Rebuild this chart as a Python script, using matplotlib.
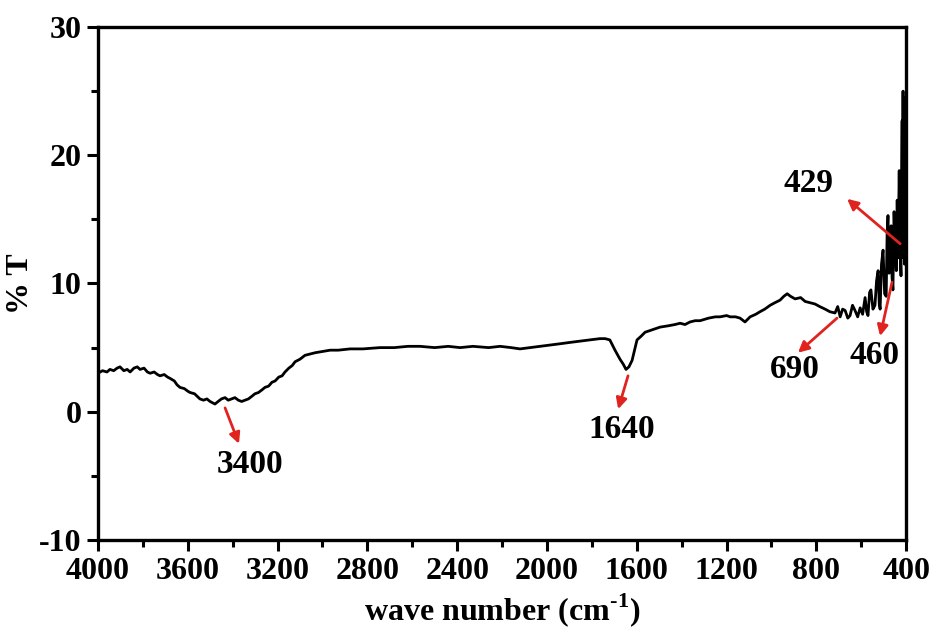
import matplotlib.pyplot as plt
from matplotlib.ticker import MultipleLocator

plt.rcParams['font.family'] = ['Liberation Serif', 'DejaVu Serif']
plt.rcParams['font.weight'] = 'bold'
plt.rcParams['axes.unicode_minus'] = False
plt.rcParams['mathtext.fontset'] = 'custom'
plt.rcParams['mathtext.rm'] = 'Liberation Serif:bold'
plt.rcParams['mathtext.bf'] = 'Liberation Serif:bold'

# FTIR spectrum (wave number, % T)
wave_number = [4000, 3980, 3960, 3947, 3930, 3915, 3902, 3885, 3870, 3857, 3840, 3825,
               3813, 3795, 3780, 3768, 3750, 3735, 3724, 3705, 3690, 3679, 3660, 3648,
               3635, 3615, 3600, 3590, 3570, 3558, 3546, 3530, 3515, 3501, 3490, 3479,
               3465, 3450, 3434, 3420, 3405, 3390, 3375, 3360, 3345, 3330, 3315, 3301,
               3285, 3270, 3256, 3240, 3225, 3211, 3195, 3180, 3167, 3150, 3135, 3122,
               3100, 3078, 3055, 3033, 3000, 2966, 2930, 2877, 2820, 2744, 2680, 2620,
               2566, 2500, 2440, 2387, 2330, 2260, 2209, 2160, 2120, 2075, 2031, 1985,
               1942, 1900, 1853, 1810, 1764, 1741, 1720, 1697, 1675, 1660, 1648, 1635,
               1621, 1610, 1599, 1580, 1563, 1530, 1496, 1460, 1430, 1407, 1385, 1363,
               1340, 1318, 1280, 1250, 1229, 1200, 1184, 1160, 1140, 1118, 1095, 1070,
               1051, 1030, 1006, 985, 962, 945, 930, 915, 895, 870, 850, 828, 806, 785,
               761, 740, 717, 705, 694, 683, 672, 660, 650, 639, 628, 616, 605, 594,
               583, 576, 570, 563, 557, 548, 539, 532, 525, 520, 516, 510, 503, 496,
               489, 485, 481, 476, 472, 467, 463, 459, 454, 449, 444, 440, 436, 431,
               427, 423, 420, 418, 416, 414, 412, 409, 407, 405, 403, 401]
transmittance = [3.0, 3.2, 3.1, 3.3, 3.2, 3.4, 3.5, 3.2, 3.3, 3.1, 3.4, 3.5,
                 3.3, 3.4, 3.1, 3.0, 3.1, 2.9, 2.8, 2.9, 2.7, 2.6, 2.4, 2.1,
                 1.9, 1.8, 1.6, 1.5, 1.4, 1.2, 1.0, 0.9, 1.0, 0.8, 0.7, 0.6,
                 0.8, 1.0, 1.1, 0.9, 1.0, 1.1, 0.9, 0.8, 0.9, 1.0, 1.2, 1.4,
                 1.5, 1.7, 1.9, 2.0, 2.3, 2.4, 2.7, 2.8, 3.1, 3.4, 3.6, 3.9,
                 4.1, 4.4, 4.5, 4.6, 4.7, 4.8, 4.8, 4.9, 4.9, 5.0, 5.0, 5.1,
                 5.1, 5.0, 5.1, 5.0, 5.1, 5.0, 5.1, 5.0, 4.9, 5.0, 5.1, 5.2,
                 5.3, 5.4, 5.5, 5.6, 5.7, 5.7, 5.6, 4.8, 4.1, 3.7, 3.3, 3.5,
                 4.0, 4.8, 5.6, 5.9, 6.2, 6.4, 6.6, 6.7, 6.8, 6.9, 6.8, 7.0,
                 7.1, 7.1, 7.3, 7.4, 7.4, 7.5, 7.4, 7.4, 7.3, 7.0, 7.4, 7.6,
                 7.8, 8.0, 8.3, 8.5, 8.7, 9.0, 9.2, 9.0, 8.8, 8.9, 8.6, 8.5, 8.4, 8.2,
                 8.0, 7.8, 7.7, 8.2, 7.4, 8.0, 7.9, 7.3, 7.5, 8.3, 7.9, 7.4, 8.1, 7.6,
                 8.9, 7.8, 7.5, 9.3, 9.5, 8.0, 8.3, 10.2, 11.0, 8.4, 8.0, 11.5, 12.6, 9.2,
                 9.0, 13.8, 15.3, 10.8, 11.5, 14.5, 10.5, 9.5, 15.6, 13.0, 11.0, 16.5, 12.0, 18.8,
                 12.5, 10.6, 19.0, 22.7, 14.0, 25.0, 12.0, 18.0, 11.5, 24.5, 14.0, 18.0]

# peak labels: (text, arrow tail, arrow head, label position) in data units
peak_labels = ['3400', '1640', '690', '460', '429']
arrow_tails = [(3434, 0.3), (1639, 2.8), (708, 7.3), (463, 10.1), (427, 13.1)]
arrow_heads = [(3372, -2.5), (1683, 0.2), (882, 4.6), (516, 5.9), (663, 16.6)]
label_pos = [(3323, -4.1), (1666, -1.4), (895, 3.3), (543, 4.4), (837, 17.8)]

fig = plt.figure(figsize=(9.37, 6.36), dpi=100)
ax = fig.add_axes([0.1046, 0.151, 0.8625, 0.8065])

ax.plot(wave_number, transmittance, color='black', lw=2)

for text, tail, head, pos in zip(peak_labels, arrow_tails, arrow_heads, label_pos):
    ax.annotate('', xy=head, xytext=tail,
                arrowprops=dict(arrowstyle='-|>', color='#e0231e', lw=2,
                                mutation_scale=16, shrinkA=0, shrinkB=0))
    ax.text(pos[0], pos[1], text, ha='center', va='center', fontsize=24,
            fontweight='bold')

ax.set_xlim(4000, 400)
ax.set_ylim(-10, 30)
ax.xaxis.set_major_locator(MultipleLocator(400))
ax.xaxis.set_minor_locator(MultipleLocator(200))
ax.yaxis.set_major_locator(MultipleLocator(10))
ax.yaxis.set_minor_locator(MultipleLocator(5))
ax.tick_params(which='major', direction='out', length=8, width=2.2, labelsize=23,
               top=False, right=False, pad=4)
ax.tick_params(which='minor', direction='out', length=5, width=2.2,
               top=False, right=False)
for lab in ax.get_xticklabels() + ax.get_yticklabels():
    lab.set_fontweight('bold')
for sp in ax.spines.values():
    sp.set_linewidth(2.4)

ax.set_xlabel(r'wave number (cm$^{\text{-1}}$)', fontsize=23, fontweight='bold')
ax.set_ylabel('% T', fontsize=23, fontweight='bold')
ax.xaxis.set_label_coords(0.5, -0.1)
ax.yaxis.set_label_coords(-0.078, 0.5)

fig.savefig('out.png', dpi=100)
